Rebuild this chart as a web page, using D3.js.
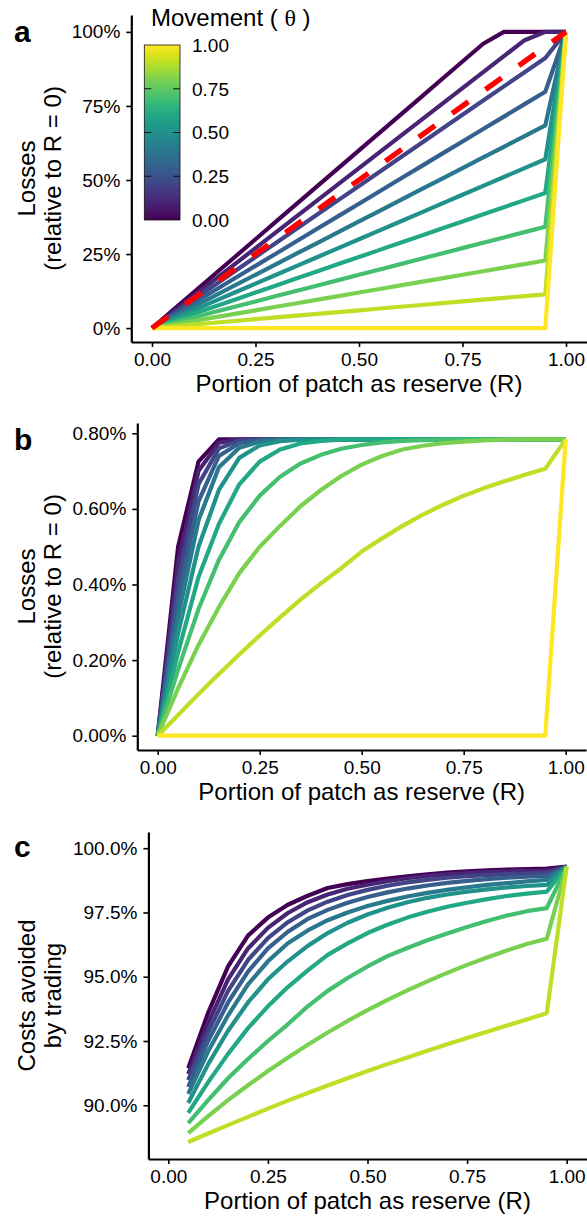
<!DOCTYPE html>
<html><head><meta charset="utf-8">
<script src="https://cdn.jsdelivr.net/npm/d3@7"></script>
<style>
body{margin:0;background:#fff}
text{font-family:"Liberation Sans",Arial,sans-serif;fill:#000}
</style>
</head><body>
<svg id="chart" width="587" height="1217"></svg>
<script>
// ---------------- DATA ----------------
const movement = [0, 0.1, 0.2, 0.3, 0.4, 0.5, 0.6, 0.7, 0.8, 0.9, 1.0];
const reserve = [0,0.05,0.1,0.15,0.2,0.25,0.3,0.35,0.4,0.45,0.5,0.55,0.6,0.65,0.7,0.75,0.8,0.85,0.9,0.95,1];
const reserveC = [0.05,0.1,0.15,0.2,0.25,0.3,0.35,0.4,0.45,0.5,0.55,0.6,0.65,0.7,0.75,0.8,0.85,0.9,0.95,1];

// panel a: losses relative to R = 0 (fraction), one row per movement value
const lossesA = [
 [0,.06,.12,.18,.24,.30,.36,.42,.48,.54,.60,.66,.72,.78,.84,.90,.96,1,1,1,1],
 [0,.054,.108,.162,.216,.27,.324,.378,.432,.486,.54,.594,.648,.702,.756,.81,.864,.918,.972,1,1],
 [0,.048,.096,.144,.192,.24,.288,.336,.384,.432,.48,.528,.576,.624,.672,.72,.768,.816,.864,.912,1],
 [0,.042,.084,.126,.168,.21,.252,.294,.336,.378,.42,.462,.504,.546,.588,.63,.672,.714,.756,.798,1],
 [0,.036,.072,.108,.144,.18,.216,.252,.288,.324,.36,.396,.432,.468,.504,.54,.576,.612,.648,.684,1],
 [0,.03,.06,.09,.12,.15,.18,.21,.24,.27,.3,.33,.36,.39,.42,.45,.48,.51,.54,.57,1],
 [0,.024,.048,.072,.096,.12,.144,.168,.192,.216,.24,.264,.288,.312,.336,.36,.384,.408,.432,.456,1],
 [0,.018,.036,.054,.072,.09,.108,.126,.144,.162,.18,.198,.216,.234,.252,.27,.288,.306,.324,.342,1],
 [0,.012,.024,.036,.048,.06,.072,.084,.096,.108,.12,.132,.144,.156,.168,.18,.192,.204,.216,.228,1],
 [0,.006,.012,.018,.024,.03,.036,.042,.048,.054,.06,.066,.072,.078,.084,.09,.096,.102,.108,.114,1],
 [0,0,0,0,0,0,0,0,0,0,0,0,0,0,0,0,0,0,0,0,1]
];
const diagonal = [[0,0],[1,1]];

// panel b: losses (percent)
const lossesB = [
 [0,.50,.725,.784,.784,.784,.784,.784,.784,.784,.784,.784,.784,.784,.784,.784,.784,.784,.784,.784,.784],
 [0,.455,.70,.775,.784,.784,.784,.784,.784,.784,.784,.784,.784,.784,.784,.784,.784,.784,.784,.784,.784],
 [0,.41,.665,.76,.781,.784,.784,.784,.784,.784,.784,.784,.784,.784,.784,.784,.784,.784,.784,.784,.784],
 [0,.36,.62,.74,.774,.782,.784,.784,.784,.784,.784,.784,.784,.784,.784,.784,.784,.784,.784,.784,.784],
 [0,.315,.57,.71,.762,.778,.783,.784,.784,.784,.784,.784,.784,.784,.784,.784,.784,.784,.784,.784,.784],
 [0,.27,.50,.65,.735,.768,.779,.783,.784,.784,.784,.784,.784,.784,.784,.784,.784,.784,.784,.784,.784],
 [0,.22,.42,.56,.665,.725,.757,.773,.780,.783,.784,.784,.784,.784,.784,.784,.784,.784,.784,.784,.784],
 [0,.175,.335,.465,.565,.635,.685,.72,.743,.759,.769,.776,.780,.782,.783,.784,.784,.784,.784,.784,.784],
 [0,.125,.24,.34,.43,.50,.555,.607,.65,.687,.717,.74,.757,.767,.774,.778,.781,.783,.784,.784,.784],
 [0,.055,.11,.163,.215,.265,.313,.36,.403,.443,.487,.522,.555,.585,.611,.635,.655,.673,.69,.706,.784],
 [0,0,0,0,0,0,0,0,0,0,0,0,0,0,0,0,0,0,0,0,.784]
];

// panel c: costs avoided by trading (percent), movement 0 .. 0.9
const costsC = [
 [91.44,93.6,95.4,96.6,97.3,97.8,98.15,98.45,98.6,98.72,98.82,98.91,98.98,99.05,99.1,99.14,99.17,99.19,99.21,99.28],
 [91.22,93.2,94.9,96.1,96.9,97.48,97.9,98.2,98.42,98.58,98.72,98.83,98.92,98.98,99.03,99.07,99.1,99.12,99.13,99.28],
 [90.98,92.85,94.45,95.65,96.5,97.12,97.58,97.92,98.18,98.38,98.54,98.67,98.77,98.85,98.91,98.95,98.99,99.01,99.03,99.28],
 [90.71,92.5,94.0,95.2,96.1,96.75,97.25,97.6,97.88,98.1,98.28,98.43,98.55,98.65,98.73,98.8,98.85,98.89,98.92,99.28],
 [90.44,92.1,93.5,94.7,95.6,96.3,96.8,97.2,97.5,97.75,97.95,98.12,98.26,98.38,98.48,98.57,98.64,98.71,98.77,99.28],
 [90.09,91.6,92.9,94.0,94.9,95.6,96.2,96.7,97.1,97.42,97.68,97.9,98.07,98.2,98.31,98.4,98.47,98.53,98.57,99.28],
 [89.7,90.9,92.0,93.0,93.85,94.6,95.25,95.85,96.3,96.7,97.02,97.3,97.53,97.72,97.88,98.02,98.14,98.23,98.31,99.28],
 [89.31,90.2,91.05,91.8,92.5,93.15,93.85,94.45,94.95,95.4,95.8,96.12,96.42,96.68,96.93,97.17,97.38,97.55,97.67,99.28],
 [88.92,89.58,90.2,90.78,91.33,91.85,92.35,92.83,93.28,93.7,94.1,94.47,94.82,95.15,95.46,95.75,96.02,96.27,96.48,99.28],
 [88.57,88.9,89.23,89.55,89.87,90.18,90.48,90.77,91.05,91.33,91.6,91.86,92.12,92.37,92.62,92.86,93.1,93.34,93.58,99.28]
];

const xTicks = [0, 0.25, 0.5, 0.75, 1];
const yTicksA = [0, 0.25, 0.5, 0.75, 1];
const yTicksB = [0, 0.2, 0.4, 0.6, 0.8];
const yTicksC = [90, 92.5, 95, 97.5, 100];
const legendTicks = [0, 0.25, 0.5, 0.75, 1];

// ---------------- DRAW ----------------
const svg = d3.select("#chart");
svg.append("rect").attr("width",587).attr("height",1217).attr("fill","#fff");
const color = d3.interpolateViridis;
const FS_TICK = 19, FS_TITLE = 24;

function panel(cfg){
  const x = d3.scaleLinear().domain([-0.05,1.05]).range(cfg.xr);
  const y = d3.scaleLinear().domain(cfg.yd).range(cfg.yr);
  const g = svg.append("g");
  const line = d3.line().x(d=>x(d[0])).y(d=>y(d[1]));
  cfg.series.forEach((vals,i)=>{
    const pts = cfg.xs.map((r,j)=>[r, vals[j]]);
    g.append("path").attr("d", line(pts)).attr("fill","none")
      .attr("stroke", color(movement[i])).attr("stroke-width",4.2)
      .attr("stroke-linejoin","round").attr("stroke-linecap","butt");
  });
  if (cfg.extra) cfg.extra(g, x, y, line);
  const ax = g.append("g").attr("transform",`translate(0,${cfg.yr[0]})`)
    .call(d3.axisBottom(x).tickValues(xTicks).tickFormat(d3.format(".2f")).tickSize(5).tickSizeOuter(0).tickPadding(6));
  const ay = g.append("g").attr("transform",`translate(${cfg.xr[0]},0)`)
    .call(d3.axisLeft(y).tickValues(cfg.yTicks).tickFormat(cfg.fmt).tickSize(5).tickSizeOuter(0).tickPadding(6));
  [ax, ay].forEach(a=>{
    a.select(".domain").attr("stroke","#000").attr("stroke-width",2.2);
    a.selectAll(".tick line").attr("stroke","#000").attr("stroke-width",1.6);
    a.selectAll(".tick text").attr("font-size",FS_TICK).attr("fill","#000")
      .style("font-family",'"Liberation Sans",Arial,sans-serif');
  });
  const xc = (cfg.xr[0]+cfg.xr[1])/2, yc = (cfg.yr[0]+cfg.yr[1])/2;
  g.append("text").attr("x",xc).attr("y",cfg.yr[0]+50).attr("text-anchor","middle")
    .attr("font-size",FS_TITLE).text("Portion of patch as reserve (R)");
  cfg.ytitle.forEach((t,k)=>{
    g.append("text").attr("transform",`translate(${35+k*26},${yc}) rotate(-90)`)
      .attr("text-anchor","middle").attr("font-size",FS_TITLE).text(t);
  });
  g.append("text").attr("x",14).attr("y",cfg.tagY).attr("font-size",30)
    .attr("font-weight","bold").text(cfg.tag);
}

panel({
  tag:"a", tagY:42, xr:[131.3,586.7], yd:[-0.047,1.057], yr:[342,15],
  xs:reserve, series:lossesA, yTicks:yTicksA, fmt:d=>Math.round(d*100)+"%",
  ytitle:["Losses","(relative to R = 0)"],
  extra:(g,x,y,line)=>{
    g.append("path").attr("d", line(diagonal)).attr("fill","none")
      .attr("stroke","#ff0000").attr("stroke-width",5.3).attr("stroke-dasharray","20,21");
  }
});
panel({
  tag:"b", tagY:450, xr:[137.3,586.1], yd:[-0.0378,0.8272], yr:[750,423],
  xs:reserve, series:lossesB, yTicks:yTicksB, fmt:d=>d.toFixed(2)+"%",
  ytitle:["Losses","(relative to R = 0)"]
});
panel({
  tag:"c", tagY:857, xr:[148.4,586.6], yd:[87.91,100.63], yr:[1159,832],
  xs:reserveC, series:costsC, yTicks:yTicksC, fmt:d=>d.toFixed(1)+"%",
  ytitle:["Costs avoided","by trading"]
});

// ---------------- LEGEND ----------------
const lg = svg.append("g");
const defs = svg.append("defs");
const grad = defs.append("linearGradient").attr("id","vir").attr("x1",0).attr("x2",0).attr("y1",1).attr("y2",0);
d3.range(0,1.0001,0.05).forEach(t=>grad.append("stop").attr("offset",t).attr("stop-color",color(t)));
const ls = d3.scaleLinear().domain([0,1]).range([220,45]);
const bx = 144.3, bw = 35.7;
lg.append("rect").attr("x",bx).attr("y",ls(1)).attr("width",bw).attr("height",ls(0)-ls(1))
  .attr("fill","url(#vir)").attr("stroke","#111").attr("stroke-width",0.8);
legendTicks.filter(t=>t>0&&t<1).forEach(t=>{
  lg.append("line").attr("x1",bx).attr("x2",bx+7).attr("y1",ls(t)).attr("y2",ls(t)).attr("stroke","#111").attr("stroke-width",1);
  lg.append("line").attr("x1",bx+bw-7).attr("x2",bx+bw).attr("y1",ls(t)).attr("y2",ls(t)).attr("stroke","#111").attr("stroke-width",1);
});
legendTicks.forEach(t=>{
  lg.append("text").attr("x",192).attr("y",ls(t)).attr("dy","0.36em").attr("font-size",FS_TICK).text(t.toFixed(2));
});
const lt = lg.append("text").attr("x",151).attr("y",26).attr("font-size",FS_TITLE);
lt.append("tspan").text("Movement ( ");
lt.append("tspan").style("font-family",'"Liberation Serif","DejaVu Serif",serif').text("θ");
lt.append("tspan").text(" )");
</script>
</body></html>
